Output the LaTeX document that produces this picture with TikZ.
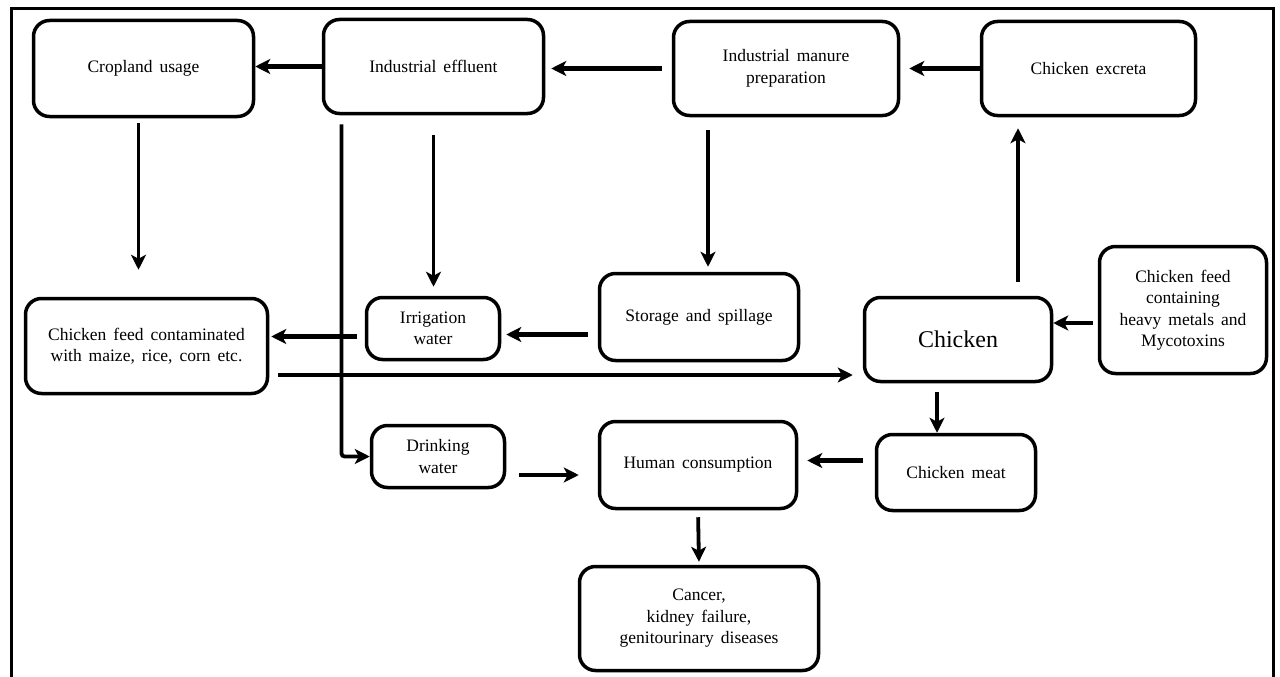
\documentclass[tikz,border=0pt]{standalone}
\usepackage{fontspec}
\setmainfont[WordSpace=1.6]{Liberation Serif}
\usetikzlibrary{arrows.meta}

\begin{document}
\begin{tikzpicture}[x=1pt, y=-1pt,
    box/.style={draw, line width=3.5pt, rounded corners=16pt, align=center, inner sep=0pt,
      font=\fontsize{17.5}{21.5}\selectfont},
    arr/.style={line width=4.5pt, -{Stealth[length=15pt, width=15pt, inset=4pt]}},
    thinarr/.style={arr, line width=3.8pt}]
  \useasboundingbox (0,0) rectangle (1280,677);
  \draw[line width=3pt] (11,690) |- (1273,9) -- (1273,690);

  \node[box, minimum width=220pt, minimum height=96pt] (crop) at (143.5,68.5) {Cropland usage};
  \node[box, minimum width=220pt, minimum height=94pt] (effluent) at (433.5,66.5) {Industrial effluent};
  \node[box, minimum width=225pt, minimum height=94pt] (manure) at (786,68.5) {Industrial manure\\preparation};
  \node[box, minimum width=214pt, minimum height=94pt] (excreta) at (1088.5,68.5) {Chicken excreta};
  \node[box, minimum width=242pt, minimum height=95pt] (feedmix) at (146.5,346) {Chicken feed contaminated\\with maize, rice, corn etc.};
  \node[box, minimum width=133pt, minimum height=62pt] (irrig) at (433,328.5) {Irrigation\\water};
  \node[box, minimum width=199pt, minimum height=87pt] (storage) at (699,317) {Storage and spillage};
  \node[box, minimum width=187pt, minimum height=84pt, font=\fontsize{24}{28}\selectfont] (chicken) at (958,339.5) {Chicken};
  \node[box, minimum width=167pt, minimum height=127pt] (feedmetal) at (1183,310) {Chicken feed\\containing\\heavy metals and\\Mycotoxins};
  \node[box, minimum width=133pt, minimum height=62pt] (drink) at (438,456.5) {Drinking\\water};
  \node[box, minimum width=197pt, minimum height=87pt] (human) at (698,465) {Human consumption};
  \node[box, minimum width=159pt, minimum height=76pt] (meat) at (956,472.5) {Chicken meat};
  \node[box, minimum width=239pt, minimum height=104pt] (disease) at (699,618.5) {Cancer,\\kidney failure,\\genitourinary diseases};

  \draw[arr] (effluent.west) -- (effluent.west -| crop.east);
  \draw[arr, shorten <=10pt, shorten >=6pt] (manure.west) -- (manure.west -| effluent.east);
  \draw[arr, shorten >=9pt] (excreta.west) -- (excreta.west -| manure.east);
  \draw[thinarr, shorten <=5pt, shorten >=27pt] ([xshift=-5pt]crop.south) -- ([xshift=-5pt]crop.south |- feedmix.north);
  \draw[thinarr, rounded corners=3pt, shorten <=9pt] ([xshift=-92pt]effluent.south) |- (drink.west);
  \draw[thinarr, shorten <=20pt, shorten >=9pt] (effluent.south) -- (effluent.south |- irrig.north);
  \draw[thinarr, shorten <=13pt, shorten >=5pt] ([xshift=-78pt]manure.south) -- ([xshift=-78pt]manure.south |- storage.north);
  \draw[arr, shorten <=10pt, shorten >=5pt] ([yshift=-6pt]irrig.east -| storage.west) -- ([yshift=-6pt]irrig.east);
  \draw[arr, shorten <=8pt, shorten >=2pt] ([yshift=-8pt]irrig.west) -- ([yshift=-8pt]irrig.west -| feedmix.east);
  \draw[arr, shorten <=9pt, shorten >=10pt] ([yshift=-29pt]feedmix.east) -- ([yshift=-29pt]feedmix.east -| chicken.west);
  \draw[thinarr, shorten <=14pt, shorten >=11pt] ([xshift=60pt]chicken.north) -- ([xshift=60pt]chicken.north |- excreta.south);
  \draw[arr, shorten <=5pt] ([yshift=-13pt]feedmetal.west) -- ([yshift=-13pt]feedmetal.west -| chicken.east);
  \draw[thinarr, shorten <=9pt] ([xshift=-21pt]chicken.south) -- ([xshift=-21pt]chicken.south |- meat.north);
  \draw[arr, shorten <=12pt, shorten >=9pt] ([yshift=12pt]meat.west) -- ([yshift=12pt]meat.west -| human.east);
  \draw[arr, shorten <=13pt, shorten >=19pt] ([yshift=-10pt]human.west -| drink.east) -- ([yshift=-10pt]human.west);
  \draw[thinarr, shorten <=7pt, shorten >=3pt] (human.south) -- (disease.north);
\end{tikzpicture}
\end{document}
